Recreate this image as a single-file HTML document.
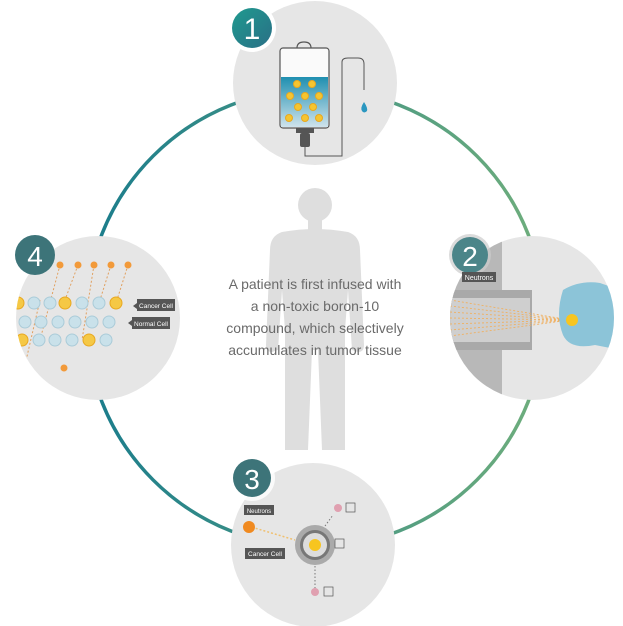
<!DOCTYPE html>
<html><head><style>body{margin:0;background:#fff}svg{display:block}text{font-family:"Liberation Sans",sans-serif}</style></head><body>
<svg width="623" height="626" viewBox="0 0 623 626" xmlns="http://www.w3.org/2000/svg">
<defs>
<linearGradient id="ring" x1="0" y1="0" x2="1" y2="0"><stop offset="0" stop-color="#1a7c8c"/><stop offset="1" stop-color="#6fae7c"/></linearGradient>
<linearGradient id="b1" x1="0" y1="0" x2="1" y2="1"><stop offset="0" stop-color="#1f9a8f"/><stop offset="1" stop-color="#2a6f86"/></linearGradient>
<linearGradient id="liq" x1="0" y1="0" x2="0" y2="1"><stop offset="0" stop-color="#1f8fb0"/><stop offset="1" stop-color="#cfe3ec"/></linearGradient>
<clipPath id="c2"><circle cx="532" cy="318" r="82"/></clipPath>
<clipPath id="c4"><circle cx="98" cy="318" r="82"/></clipPath>
</defs>
<circle cx="315" cy="318" r="229" fill="none" stroke="url(#ring)" stroke-width="3.5"/>
<!-- body -->
<g fill="#dedede">
<circle cx="315" cy="205" r="17"/>
<rect x="308" y="218" width="14" height="14"/>
<path d="M282 232 Q315 226 348 232 Q360 236 360 250 L364 345 Q364 352 358 352 L352 350 L348 290 L345 330 L345 450 L322 450 L318 350 L312 350 L308 450 L285 450 L285 330 L282 290 L278 350 L272 352 Q266 352 266 345 L270 250 Q270 236 282 232Z"/>
</g>
<g font-size="14" fill="#6a6a6a" text-anchor="middle">
<text x="315" y="289">A patient is first infused with</text>
<text x="315" y="311">a non-toxic boron-10</text>
<text x="315" y="333">compound, which selectively</text>
<text x="315" y="355">accumulates in tumor tissue</text>
</g>
<!-- circle 1 -->
<circle cx="315" cy="83" r="82" fill="#e6e6e6"/>
<rect x="280" y="48" width="49" height="80" rx="3" fill="#fafafa" stroke="#555" stroke-width="1.2"/>
<path d="M297 48 Q297 42 304 42 Q311 42 311 48" fill="none" stroke="#555" stroke-width="1.2"/>
<rect x="281" y="77" width="47" height="50" fill="url(#liq)"/>
<g fill="#f5c530" stroke="#e8a820" stroke-width="1"><circle cx="297" cy="84" r="3.5"/><circle cx="312" cy="84" r="3.5"/><circle cx="290" cy="96" r="3.5"/><circle cx="305" cy="96" r="3.5"/><circle cx="319" cy="96" r="3.5"/><circle cx="298" cy="107" r="3.5"/><circle cx="313" cy="107" r="3.5"/><circle cx="289" cy="118" r="3.5"/><circle cx="305" cy="118" r="3.5"/><circle cx="319" cy="118" r="3.5"/></g>
<rect x="296" y="128" width="18" height="5" fill="#555"/><rect x="300" y="133" width="10" height="14" rx="2" fill="#555"/>
<path d="M305 147 L305 156 L342 156 L342 62 Q342 58 348 58 L358 58 Q364 58 364 64 L364 90" fill="none" stroke="#555" stroke-width="1"/>
<path d="M364 102 Q360 108 362 111 Q364 114 367 111 Q368 108 364 102Z" fill="#2b97c0"/>
<circle cx="252" cy="28" r="24" fill="#fff"/><circle cx="252" cy="28" r="20" fill="url(#b1)"/>
<text x="252" y="39" font-size="30" fill="#fff" text-anchor="middle">1</text>
<!-- circle 2 -->
<circle cx="532" cy="318" r="82" fill="#e6e6e6"/>
<g clip-path="url(#c2)">
<rect x="440" y="240" width="62" height="175" fill="#b8b8b8"/>
<rect x="440" y="290" width="92" height="60" fill="#a9a9a9"/>
<rect x="440" y="298" width="90" height="44" fill="#cfcfcf"/>
<g stroke="#f0b060" stroke-width="0.9" stroke-dasharray="2 2">
<line x1="450" y1="300" x2="570" y2="320"/><line x1="450" y1="306" x2="570" y2="320"/><line x1="450" y1="312" x2="570" y2="320"/><line x1="450" y1="318" x2="570" y2="320"/><line x1="450" y1="324" x2="570" y2="320"/><line x1="450" y1="330" x2="570" y2="320"/><line x1="450" y1="336" x2="570" y2="320"/></g>
<path d="M563 290 Q580 280 600 283 L620 290 L620 350 L595 345 Q570 350 563 335 Q555 315 563 290Z" fill="#8cc4d8"/>
<circle cx="572" cy="320" r="6" fill="#f7c520"/>
</g>
<circle cx="470" cy="255" r="21" fill="#ccc" opacity="0.7"/><circle cx="470" cy="255" r="18" fill="#4b8589"/>
<text x="470" y="266" font-size="28" fill="#fff" text-anchor="middle">2</text>
<rect x="462" y="272" width="34" height="10" fill="#555"/><text x="479" y="280" font-size="7" fill="#fff" text-anchor="middle">Neutrons</text>
<!-- circle 3 -->
<circle cx="313" cy="545" r="82" fill="#e6e6e6"/>
<line x1="248" y1="526" x2="295" y2="540" stroke="#f0c070" stroke-width="1.5" stroke-dasharray="2 2"/>
<circle cx="249" cy="527" r="6" fill="#f08a20"/>
<rect x="244" y="505" width="30" height="10" fill="#555"/><text x="259" y="513" font-size="6" fill="#fff" text-anchor="middle">Neutrons</text>
<rect x="245" y="548" width="40" height="11" fill="#555"/><text x="265" y="556" font-size="6.5" fill="#fff" text-anchor="middle">Cancer Cell</text>
<circle cx="315" cy="545" r="20" fill="#aaa"/><circle cx="315" cy="545" r="15" fill="#777"/><circle cx="315" cy="545" r="12" fill="#ddd"/>
<circle cx="315" cy="545" r="6" fill="#f7c520"/>
<line x1="315" y1="566" x2="315" y2="588" stroke="#777" stroke-dasharray="1.5 2"/>
<line x1="325" y1="526" x2="333" y2="515" stroke="#777" stroke-dasharray="1.5 2"/>
<circle cx="338" cy="508" r="4" fill="#e0a0b0"/><rect x="346" y="503" width="9" height="9" fill="none" stroke="#555" stroke-width="0.7"/>
<rect x="335" y="539" width="9" height="9" fill="none" stroke="#555" stroke-width="0.7"/>
<circle cx="315" cy="592" r="4" fill="#e0a0b0"/><rect x="324" y="587" width="9" height="9" fill="none" stroke="#555" stroke-width="0.7"/>
<circle cx="252" cy="478" r="23" fill="#fff" opacity="0.8"/><circle cx="252" cy="478" r="19" fill="#3d7479"/>
<text x="252" y="489" font-size="28" fill="#fff" text-anchor="middle">3</text>
<!-- circle 4 -->
<circle cx="98" cy="318" r="82" fill="#e6e6e6"/>
<g clip-path="url(#c4)">
<g stroke="#e0a060" stroke-width="1" stroke-dasharray="2 2"><line x1="60" y1="265" x2="40" y2="340"/><line x1="78" y1="265" x2="65" y2="300"/><line x1="94" y1="265" x2="82" y2="340"/><line x1="111" y1="265" x2="100" y2="300"/><line x1="128" y1="265" x2="117" y2="300"/><line x1="40" y1="300" x2="25" y2="365"/></g>
<g fill="#c9e1ea" stroke="#aacbd8"><circle cx="34" cy="303" r="6"/><circle cx="50" cy="303" r="6"/><circle cx="82" cy="303" r="6"/><circle cx="99" cy="303" r="6"/>
<circle cx="25" cy="322" r="6"/><circle cx="41" cy="322" r="6"/><circle cx="58" cy="322" r="6"/><circle cx="75" cy="322" r="6"/><circle cx="92" cy="322" r="6"/><circle cx="109" cy="322" r="6"/>
<circle cx="39" cy="340" r="6"/><circle cx="55" cy="340" r="6"/><circle cx="72" cy="340" r="6"/><circle cx="106" cy="340" r="6"/></g>
<g fill="#f5c845" stroke="#e8a820"><circle cx="18" cy="303" r="6"/><circle cx="65" cy="303" r="6"/><circle cx="116" cy="303" r="6"/><circle cx="22" cy="340" r="6"/><circle cx="89" cy="340" r="6"/></g>
</g>
<g fill="#f29a3a"><circle cx="60" cy="265" r="3.5"/><circle cx="78" cy="265" r="3.5"/><circle cx="94" cy="265" r="3.5"/><circle cx="111" cy="265" r="3.5"/><circle cx="128" cy="265" r="3.5"/><circle cx="64" cy="368" r="3.5"/></g>
<path d="M133 306 L137 303 L137 309Z" fill="#555"/><rect x="137" y="299" width="38" height="12" fill="#555"/><text x="156" y="308" font-size="6.5" fill="#fff" text-anchor="middle">Cancer Cell</text>
<path d="M128 323 L132 320 L132 326Z" fill="#555"/><rect x="132" y="317" width="38" height="12" fill="#555"/><text x="151" y="326" font-size="6.5" fill="#fff" text-anchor="middle">Normal Cell</text>
<circle cx="35" cy="255" r="20" fill="#3d7479"/>
<text x="35" y="266" font-size="28" fill="#fff" text-anchor="middle">4</text>
</svg>
</body></html>
